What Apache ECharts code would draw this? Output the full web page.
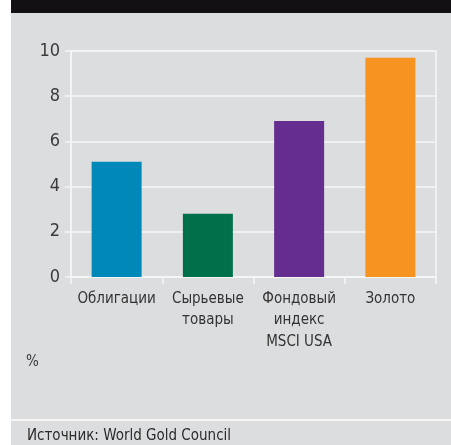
<!DOCTYPE html>
<html>
<head>
<meta charset="utf-8">
<script src="https://cdn.jsdelivr.net/npm/echarts@6/dist/echarts.min.js"></script>
<style>
html,body{margin:0;padding:0;background:#fff;}
#c{width:451px;height:445px;}
</style>
</head>
<body>
<div id="c"></div>
<script>
const categories = ['Облигации', 'Сырьевые\nтовары', 'Фондовый\nиндекс\nMSCI USA', 'Золото'];
const values = [5.1, 2.8, 6.9, 9.7];
const barColors = ['#0089b8', '#00704b', '#652d8f', '#f79421'];
const yTicks = [0, 2, 4, 6, 8, 10];
const unitLabel = '%';
const sourceText = 'Источник: World Gold Council';

const FONT = '"Liberation Sans Narrow", "DejaVu Sans Condensed", "Liberation Sans", sans-serif';
const chart = echarts.init(document.getElementById('c'), null, {renderer: 'canvas'});
chart.setOption({
  animation: false,
  backgroundColor: '#ffffff',
  graphic: [
    {type: 'rect', z: -10, shape: {x: 11, y: 0, width: 440, height: 445}, style: {fill: '#dcdddf'}},
    {type: 'rect', z: -9, shape: {x: 11, y: 0, width: 440, height: 13}, style: {fill: '#121012'}},
    {type: 'rect', z: -9, shape: {x: 11, y: 419, width: 440, height: 2}, style: {fill: '#f4f4f4'}},
    {type: 'text', left: 26, top: 355, style: {text: unitLabel, font: '15px ' + FONT, fill: '#3a3a3a'}},
    {type: 'text', left: 27, top: 429, style: {text: sourceText, font: '15px ' + FONT, fill: '#2a2a2a'}}
  ],
  grid: {left: 71, right: 15, top: 51, bottom: 168, show: true, borderColor: '#f6f6f6', borderWidth: 1.5, backgroundColor: 'transparent'},
  xAxis: {
    type: 'category',
    data: categories,
    boundaryGap: true,
    axisLine: {show: true, lineStyle: {color: '#f6f6f6', width: 1.5}},
    axisTick: {show: true, interval: 0, length: 7, lineStyle: {color: '#f6f6f6', width: 1.5}},
    axisLabel: {interval: 0, color: '#333', fontFamily: FONT, fontSize: 15, lineHeight: 21.5, margin: 11}
  },
  yAxis: {
    type: 'value',
    min: yTicks[0],
    max: yTicks[yTicks.length - 1],
    interval: 2,
    axisLine: {show: true, lineStyle: {color: '#f6f6f6', width: 1.5}},
    axisTick: {show: true, length: 6, lineStyle: {color: '#f6f6f6', width: 1.5}},
    axisLabel: {color: '#3a3a3a', fontFamily: FONT, fontSize: 18, margin: 11},
    splitLine: {show: true, lineStyle: {color: '#f6f6f6', width: 1.5}}
  },
  series: [{
    type: 'bar',
    data: values.map((v, i) => ({value: v, itemStyle: {color: barColors[i]}})),
    barWidth: 50
  }]
});
</script>
</body>
</html>
